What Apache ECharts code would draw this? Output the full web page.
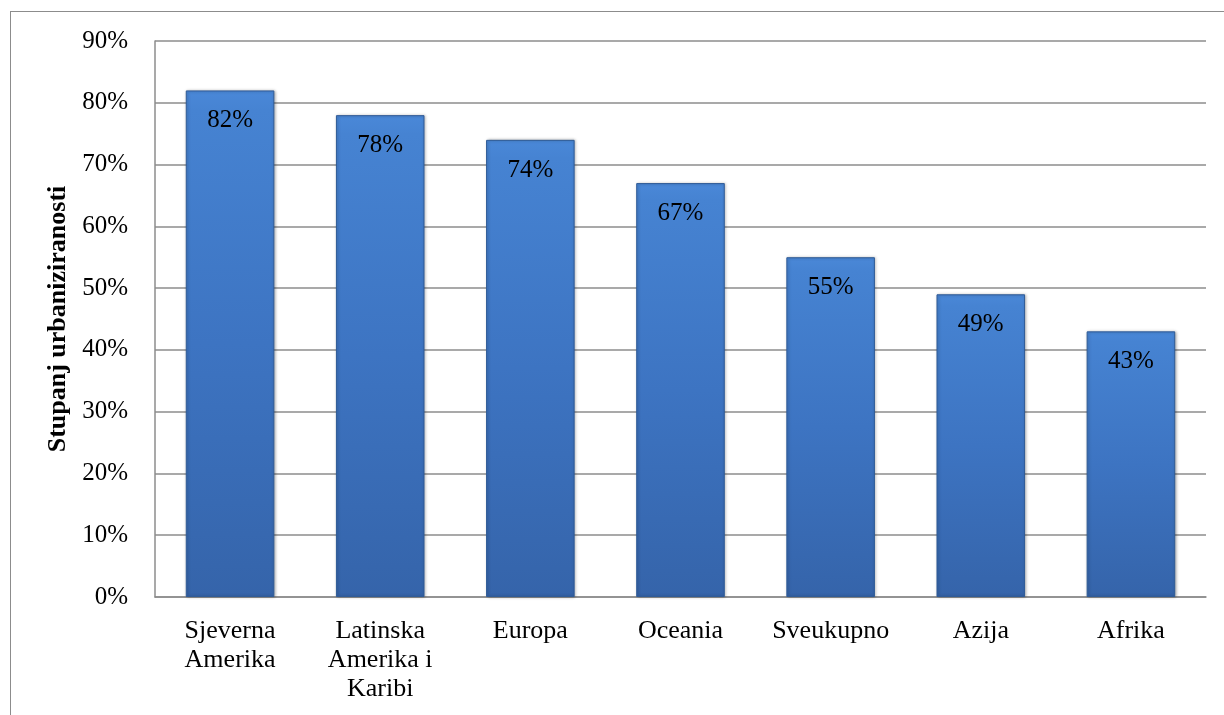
<!DOCTYPE html>
<html><head><meta charset="utf-8">
<script src="https://cdn.jsdelivr.net/npm/echarts@6/dist/echarts.min.js"></script>
<style>html,body{margin:0;padding:0;background:#fff}#c{width:1224px;height:715px}
#frame{position:absolute;left:10px;top:11px;width:1230px;height:720px;border:1.5px solid #8c8c8c;pointer-events:none}</style>
</head><body><div id="c"></div><div id="frame"></div>
<script>
const categories = ['Sjeverna\nAmerika', 'Latinska\nAmerika i\nKaribi', 'Europa', 'Oceania', 'Sveukupno', 'Azija', 'Afrika'];
const values = [82, 78, 74, 67, 55, 49, 43];
const yTicks = [0, 10, 20, 30, 40, 50, 60, 70, 80, 90];
const yName = 'Stupanj urbaniziranosti';

const chart = echarts.init(document.getElementById('c'), null, {renderer: 'canvas'});
const font = '"Liberation Serif", "Times New Roman", serif';
chart.setOption({
  animation: false,
  grid: {left: 155, right: 18, top: 41, bottom: 118},
  xAxis: {
    type: 'category', data: categories,
    axisLine: {lineStyle: {color: '#8c8c8c', width: 1.5}},
    axisTick: {show: false},
    axisLabel: {color: '#000', fontFamily: font, fontSize: 26, lineHeight: 29, margin: 20, interval: 0}
  },
  yAxis: {
    type: 'value', min: yTicks[0], max: yTicks[yTicks.length - 1], interval: 10,
    name: yName, nameLocation: 'middle', nameGap: 80,
    nameTextStyle: {color: '#000', fontFamily: font, fontSize: 26, fontWeight: 'bold'},
    axisLine: {show: true, lineStyle: {color: '#8c8c8c', width: 1.5}},
    axisTick: {show: false},
    splitLine: {lineStyle: {color: '#8c8c8c', width: 1.5}},
    axisLabel: {color: '#000', fontFamily: font, fontSize: 25, margin: 27, formatter: v => v + '%'}
  },
  series: [{
    type: 'bar', data: values, barCategoryGap: '41%',
    itemStyle: {
      color: new echarts.graphic.LinearGradient(0, 0, 0, 1, [
        {offset: 0, color: '#4a88d8'}, {offset: 0.04, color: '#4683d2'}, {offset: 0.5, color: '#3d74c2'}, {offset: 1, color: '#3564aa'}
      ]),
      borderColor: '#2f5b97', borderWidth: 1,
      shadowColor: 'rgba(0,0,0,0.3)', shadowBlur: 3, shadowOffsetX: 1
    },
    label: {show: true, position: 'insideTop', distance: 18, color: '#000', fontFamily: font, fontSize: 25, formatter: p => p.value + '%'}
  }]
});
</script></body></html>
